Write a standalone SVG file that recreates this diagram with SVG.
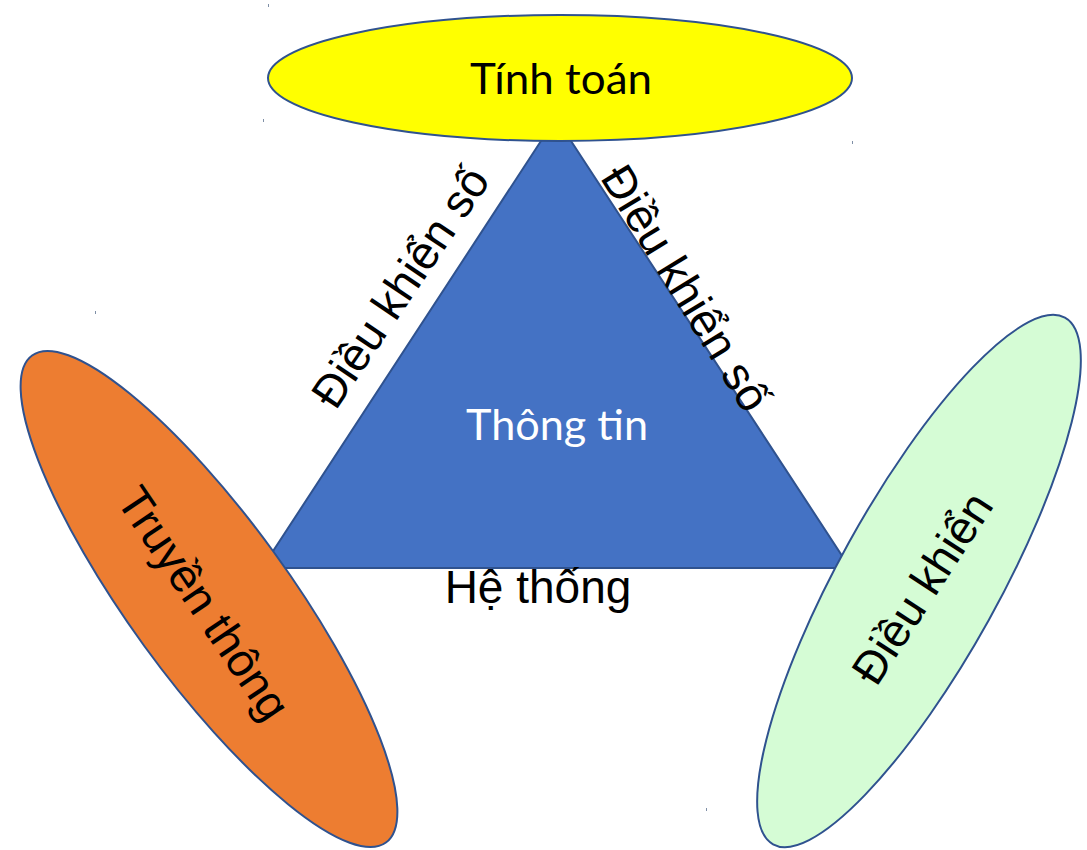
<svg xmlns="http://www.w3.org/2000/svg" width="1087" height="850" viewBox="0 0 1087 850">
  <style>
    .shape { stroke: #2F528F; stroke-width: 2; }
    .arial { font-family: "Liberation Sans", Arial, sans-serif; font-size: 46px; fill: #000; text-anchor: middle; }
    .calibri { font-family: Lato, "Open Sans", "Noto Sans", sans-serif; text-anchor: middle; }
    .speck { fill: #7f8fa6; }
  </style>

  <!-- central triangle -->
  <g id="thong-tin">
    <polygon class="shape" points="556,118 262,568 850,568" fill="#4472C4" stroke-width="1.5"/>
    <text class="calibri" x="557" y="440" font-size="42" fill="#FFFFFF" textLength="182" lengthAdjust="spacingAndGlyphs">Thông tin</text>
  </g>

  <!-- top ellipse -->
  <g id="tinh-toan">
    <ellipse class="shape" cx="560" cy="78" rx="292" ry="63" fill="#FFFF00"/>
    <text class="calibri" x="561" y="94" font-size="43" fill="#000" textLength="182" lengthAdjust="spacingAndGlyphs">Tính toán</text>
  </g>

  <!-- left ellipse -->
  <g id="truyen-thong">
    <ellipse class="shape" cx="0" cy="0" rx="301" ry="80" fill="#ED7D31" transform="translate(209,599) rotate(54)"/>
    <text class="arial" x="0" y="0" dy="0.35em" transform="translate(204,603) rotate(56)">Truyền thông</text>
  </g>

  <!-- right ellipse -->
  <g id="dieu-khien">
    <ellipse class="shape" cx="0" cy="0" rx="301" ry="80" fill="#D5FCD5" transform="translate(919,581) rotate(-61)"/>
    <text class="arial" x="0" y="0" dy="0.35em" transform="translate(922,588) rotate(-57)">Điều khiển</text>
  </g>

  <!-- edge labels -->
  <g id="connectors">
    <text class="arial" x="0" y="0" dy="0.35em" transform="translate(400,287) rotate(-56)">Điều khiển số</text>
    <text class="arial" x="0" y="0" dy="0.35em" transform="translate(686,288) rotate(58.5)">Điều khiển số</text>
    <text class="arial" x="538" y="603">Hệ thống</text>
  </g>

  <!-- stray marks -->
  <g id="specks">
    <rect class="speck" x="268" y="4" width="1" height="3"/>
    <rect class="speck" x="263" y="119" width="1" height="3"/>
    <rect class="speck" x="852" y="141" width="1" height="3"/>
    <rect class="speck" x="95" y="311" width="1" height="3"/>
    <rect class="speck" x="706" y="808" width="1" height="3"/>
  </g>
</svg>
